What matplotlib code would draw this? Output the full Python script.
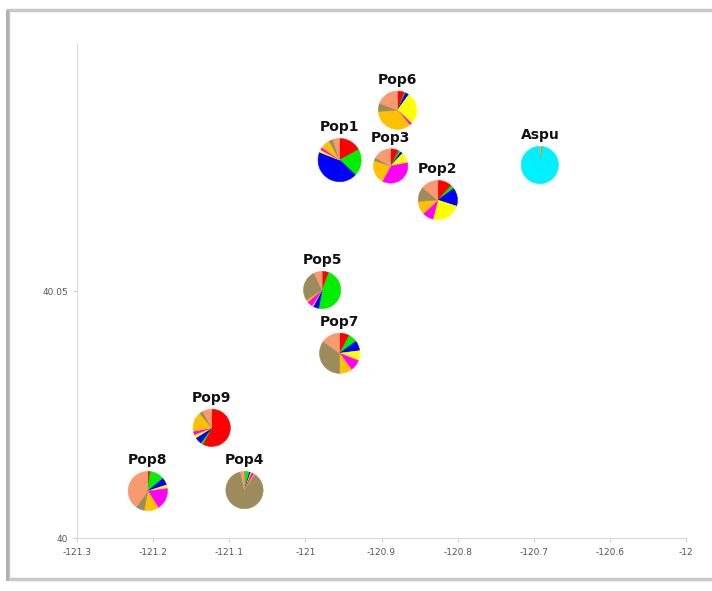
import matplotlib.pyplot as plt
from matplotlib.patches import Rectangle

# Population locations (longitude, latitude) and ancestry fractions
pops = ['Pop1', 'Pop6', 'Pop3', 'Pop2', 'Aspu', 'Pop5', 'Pop7', 'Pop9', 'Pop8', 'Pop4']
lon = [-120.955, -120.879, -120.888, -120.826, -120.692, -120.978, -120.955, -121.123, -121.207, -121.080]
lat = [40.0765, 40.0866, 40.0753, 40.0684, 40.0755, 40.0502, 40.0374, 40.0223, 40.0095, 40.0097]
sizes = [22, 19.5, 17.5, 20, 19, 19, 20.5, 19, 20, 19]  # pie radius in pixels

cluster_colors = ['#ff0000', '#00ee00', '#0000ff', '#ffff00', '#ff00ff',
                  '#ffc000', '#9c8c5c', '#f79a70', '#00f0ff']

fractions = {
    'Pop1': [0.17, 0.20, 0.44, 0.02, 0.02, 0.07, 0.03, 0.05, 0.0],
    'Pop6': [0.06, 0.01, 0.03, 0.27, 0.02, 0.35, 0.07, 0.19, 0.0],
    'Pop3': [0.08, 0.02, 0.02, 0.10, 0.36, 0.22, 0.03, 0.17, 0.0],
    'Pop2': [0.12, 0.03, 0.15, 0.24, 0.09, 0.11, 0.12, 0.14, 0.0],
    'Aspu': [0.0, 0.0, 0.0, 0.0, 0.0, 0.015, 0.01, 0.0, 0.975],
    'Pop5': [0.06, 0.47, 0.05, 0.01, 0.05, 0.02, 0.27, 0.07, 0.0],
    'Pop7': [0.08, 0.07, 0.08, 0.08, 0.09, 0.10, 0.35, 0.15, 0.0],
    'Pop9': [0.58, 0.02, 0.06, 0.03, 0.03, 0.17, 0.03, 0.08, 0.0],
    'Pop8': [0.02, 0.12, 0.06, 0.03, 0.18, 0.12, 0.07, 0.40, 0.0],
    'Pop4': [0.005, 0.04, 0.01, 0.01, 0.02, 0.01, 0.87, 0.035, 0.0],
}

x_ticks = [-121.3, -121.2, -121.1, -121.0, -120.9, -120.8, -120.7, -120.6, -120.5]
x_labels = ['-121.3', '-121.2', '-121.1', '-121', '-120.9', '-120.8', '-120.7', '-120.6', '-12']
y_ticks = [40.0, 40.05]
y_labels = ['40', '40.05']

W, H = 712, 591
fig = plt.figure(figsize=(W / 100, H / 100), dpi=100)
fig.patch.set_facecolor('white')

# screenshot frame
fig.add_artist(Rectangle((8 / W, 12 / H), 1.2, (H - 22) / H, transform=fig.transFigure,
                         facecolor='none', edgecolor='#c8c8c8', lw=2.5))
fig.add_artist(Rectangle((6 / W, 10 / H), 3 / W, (H - 20) / H, transform=fig.transFigure,
                         facecolor='#b0b0b0', edgecolor='none'))

ax = fig.add_axes([77 / W, 53 / H, 609 / W, 494 / H])
ax.set_xlim(-121.3, -120.5)
ax.set_ylim(40.0, 40.1)
ax.set_xticks(x_ticks)
ax.set_xticklabels(x_labels)
ax.set_yticks(y_ticks)
ax.set_yticklabels(y_labels)
ax.tick_params(labelsize=6.5, colors='#d0d0d0', labelcolor='#555555', length=3)
ax.tick_params(axis='x', pad=4)
for s in ['top', 'right']:
    ax.spines[s].set_visible(False)
for s in ['left', 'bottom']:
    ax.spines[s].set_color('#d8d8d8')

# one pie per population, placed at its coordinates
ax_px_w = 609
ax_px_h = 494
for name, x, y, r in zip(pops, lon, lat, sizes):
    w = 2 * r / ax_px_w * 0.8
    h = 2 * r / ax_px_h * 0.1
    pax = ax.inset_axes([x - w / 2, y - h / 2, w, h], transform=ax.transData)
    vals = fractions[name]
    cols = [c for v, c in zip(vals, cluster_colors) if v > 0]
    vals = [v for v in vals if v > 0]
    wedges, _ = pax.pie(vals, colors=cols, startangle=90, counterclock=False,
                        wedgeprops=dict(linewidth=0.4))
    for wd in wedges:
        wd.set_edgecolor(wd.get_facecolor())
    pax.set_xlim(-1.02, 1.02)
    pax.set_ylim(-1.02, 1.02)
    pax.set_aspect('equal')
    ax.annotate(name, (x, y), xytext=(0, r + 11), textcoords='offset pixels',
                ha='center', va='center', fontsize=10, fontweight='bold', color='#111111')

fig.savefig('out.png', dpi=100)
